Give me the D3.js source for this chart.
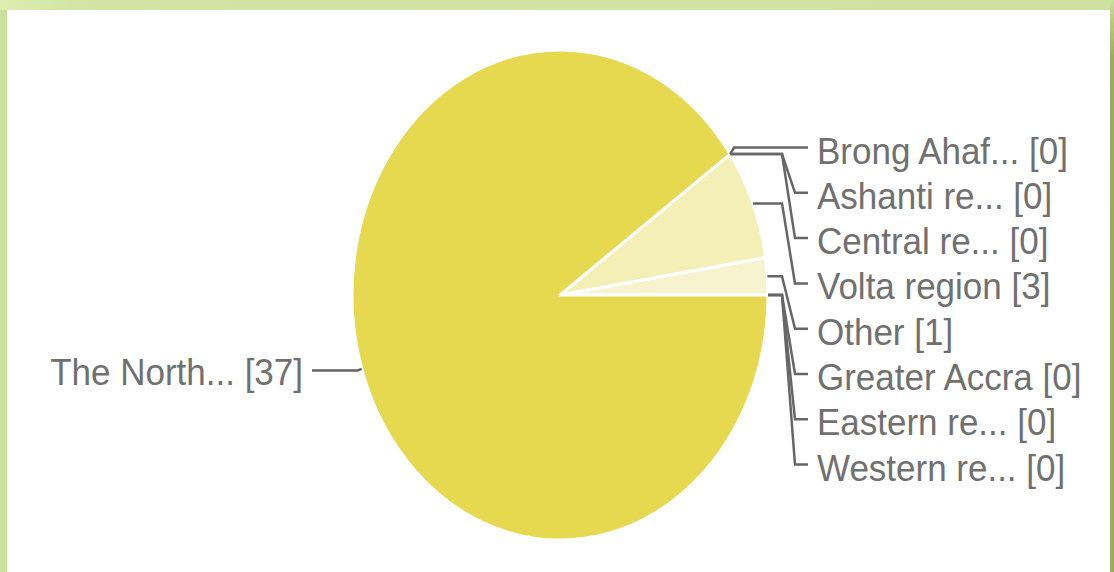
<!DOCTYPE html>
<html>
<head>
<meta charset="utf-8">
<script src="https://cdn.jsdelivr.net/npm/d3@7"></script>
<style>
  html, body { margin: 0; padding: 0; background: #fff; }
  svg { display: block; }
</style>
</head>
<body>
<svg id="chart" width="1114" height="572"></svg>
<script>
// ---- data (counter-clockwise order starting at 3 o'clock) ----
const categories = ["Western re...", "Eastern re...", "Greater Accra", "Other", "Volta region",
                    "Central re...", "Ashanti re...", "Brong Ahaf...", "The North..."];
const values     = [0, 0, 0, 1, 3, 0, 0, 0, 37];
const sliceColors = ["#F7F3D0", "#F7F3D0", "#F7F3D0", "#F7F3CE", "#F4EFB6",
                     "#F4EFB6", "#F4EFB6", "#F4EFB6", "#E6D94F"];
// label order on the right side, top to bottom
const rightOrder = ["Brong Ahaf...", "Ashanti re...", "Central re...", "Volta region",
                    "Other", "Greater Accra", "Eastern re...", "Western re..."];

const W = 1114, H = 572;
const svg = d3.select("#chart");

// ---- frame ----
const defs = svg.append("defs");
const gTop = defs.append("linearGradient").attr("id", "gTop").attr("x1", 0).attr("x2", 1).attr("y1", 0).attr("y2", 0);
gTop.append("stop").attr("offset", 0).attr("stop-color", "#dcedb0");
gTop.append("stop").attr("offset", 0.08).attr("stop-color", "#d2e4a3");
gTop.append("stop").attr("offset", 1).attr("stop-color", "#cfe19e");
const gRight = defs.append("linearGradient").attr("id", "gRight").attr("x1", 0).attr("x2", 0).attr("y1", 0).attr("y2", 1);
gRight.append("stop").attr("offset", 0).attr("stop-color", "#cadd99");
gRight.append("stop").attr("offset", 0.1).attr("stop-color", "#98ab68");
gRight.append("stop").attr("offset", 1).attr("stop-color", "#96aa66");

svg.append("rect").attr("x", 0).attr("y", 0).attr("width", W).attr("height", H).attr("fill", "#cbe09c");
svg.append("rect").attr("x", 1110).attr("y", 0).attr("width", 4).attr("height", H).attr("fill", "url(#gRight)");
svg.append("rect").attr("x", 0).attr("y", 0).attr("width", 1110).attr("height", 10).attr("fill", "url(#gTop)");
svg.append("rect").attr("x", 7).attr("y", 10).attr("width", 1103).attr("height", H - 10).attr("fill", "#ffffff");

// ---- pie ----
const cx = 560, cy = 295, rx = 208, ry = 245;
const data = categories.map((c, i) => ({ name: c, value: values[i], color: sliceColors[i] }));
const pie = d3.pie().sort(null).value(d => d.value)
  .startAngle(Math.PI / 2).endAngle(Math.PI / 2 - 2 * Math.PI);
const arcs = pie(data);
const arc = d3.arc().innerRadius(0).outerRadius(ry);

const gPie = svg.append("g").attr("transform", `translate(${cx},${cy}) scale(${rx / ry},1)`);
gPie.selectAll("path").data(arcs.filter(a => a.data.value > 0)).join("path")
  .attr("d", arc)
  .attr("fill", d => d.data.color)
  .attr("stroke", "#ffffff")
  .attr("stroke-width", 3)
  .attr("stroke-linejoin", "round")
  .attr("vector-effect", "non-scaling-stroke");

// anchor point on the ellipse at slice mid angle
function anchor(a) {
  const m = (a.startAngle + a.endAngle) / 2;
  return [cx + rx * Math.sin(m), cy - ry * Math.cos(m)];
}

// ---- labels ----
const fs = 35, sy = 1.08;
const lineColor = "#666666", textColor = "#707070";
const gLab = svg.append("g");

const rightTop = 147.5, rightStep = 45.3;
const elbowX = 782, slantX = 795, endX = 808, textX = 817;

arcs.forEach(a => {
  const [ax, ay] = anchor(a);
  const label = `${a.data.name} [${a.data.value}]`;
  const idx = rightOrder.indexOf(a.data.name);
  if (idx >= 0) {
    const ly = rightTop + idx * rightStep;
    const hy = Math.abs(ay - ly) < 10 ? ly : ay;
    gLab.append("path")
      .attr("d", d3.line()([[ax, ay], [ax + 4, hy], [elbowX, hy], [slantX, ly], [endX, ly]]))
      .attr("fill", "none").attr("stroke", lineColor).attr("stroke-width", 2.5);
    gLab.append("text")
      .attr("transform", `translate(${textX},${ly + 2.5 + 0.358 * fs * sy}) scale(1,${sy})`)
      .attr("font-family", "'Liberation Sans', Arial, sans-serif")
      .attr("font-size", fs).attr("fill", textColor)
      .text(label);
  } else {
    const ly = ay + 1.5;
    gLab.append("path")
      .attr("d", d3.line()([[ax, ay], [ax - 4, ly], [312, ly]]))
      .attr("fill", "none").attr("stroke", lineColor).attr("stroke-width", 2.5);
    gLab.append("text")
      .attr("transform", `translate(${303},${ly + 1.5 + 0.358 * fs * sy}) scale(1,${sy})`)
      .attr("text-anchor", "end")
      .attr("font-family", "'Liberation Sans', Arial, sans-serif")
      .attr("font-size", fs).attr("fill", textColor)
      .text(label);
  }
});
</script>
</body>
</html>
